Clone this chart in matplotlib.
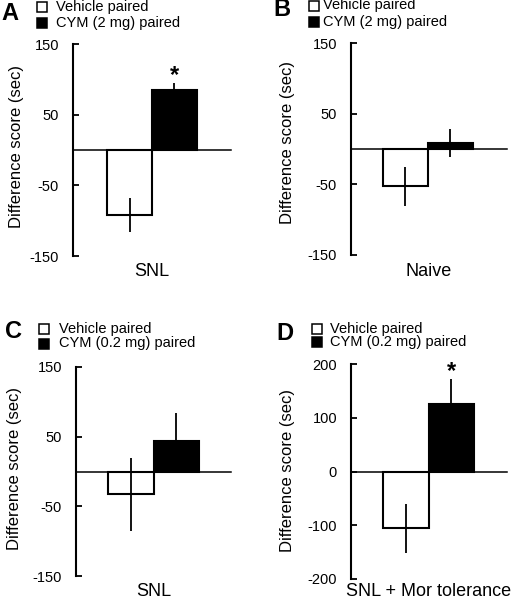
import matplotlib
matplotlib.use('Agg')
import matplotlib.pyplot as plt
from matplotlib.lines import Line2D

plt.rcParams['font.family'] = ['Liberation Sans', 'DejaVu Sans']

# ---------------- data ----------------
panel_letters = ["A", "B", "C", "D"]
vehicle_label = "Vehicle paired"
cym_labels = ["CYM (2 mg) paired", "CYM (2 mg) paired",
              "CYM (0.2 mg) paired", "CYM (0.2 mg) paired"]
x_labels = ["SNL", "Naive", "SNL", "SNL + Mor tolerance"]

vehicle_means = [-92, -53, -33, -106]
vehicle_errs = [24, 27, 53, 45]
cym_means = [85, 8, 44, 125]
cym_errs = [10, 20, 40, 48]
cym_significant = [True, False, False, True]

yticks_ABC = [-150, -50, 50, 150]
yticks_D = [-200, -100, 0, 100, 200]
ylims = [(-150, 150), (-150, 150), (-150, 150), (-200, 200)]
yticks_all = [yticks_ABC, yticks_ABC, yticks_ABC, yticks_D]

# ---------------- layout (pixels) ----------------
W, H = 511, 600
fig = plt.figure(figsize=(W / 100, H / 100), dpi=100)


def fx(x):
    return x / W


def fy(y):
    return 1 - y / H


# left, right, top, bottom of axes in px
rects = [(73, 231, 44, 256), (351, 507, 43, 255),
         (76, 231, 367, 576), (351, 507, 364, 579)]
xlims = [(-1.256, 2.256), (-1.211, 2.256), (-1.203, 2.203), (-1.21, 2.225)]
letter_pos = [(10, 14), (282, 10), (13, 332), (285, 333)]
legend_sq = [(42, 6.5, 42, 23), (314, 5.5, 314, 22),
             (44, 329, 44, 343.5), (317, 329, 317, 342)]
legend_tx = [56, 323, 59, 330]
ylabel_pos = [(17, 147), (287, 142), (15, 469), (287, 470)]
xlabel_y = [272, 272, 592, 592]

for i in range(4):
    l, r, t, b = rects[i]
    ax = fig.add_axes([fx(l), fy(b), (r - l) / W, (b - t) / H])
    xs = [0, 1]
    means = [vehicle_means[i], cym_means[i]]
    errs = [vehicle_errs[i], cym_errs[i]]
    ax.bar(xs, means, width=1.0, color=['white', 'black'],
           edgecolor='black', linewidth=1.5, zorder=2)
    ax.errorbar(xs, means, yerr=errs, fmt='none', ecolor='black',
                elinewidth=1.3, capsize=0, zorder=3)
    if cym_significant[i]:
        ax.annotate('*', xy=(1, cym_means[i] + cym_errs[i]),
                    xytext=(0, -3), textcoords='offset points',
                    ha='center', va='bottom', fontsize=17, fontweight='bold')
    ax.set_xlim(*xlims[i])
    ax.set_ylim(*ylims[i])
    ax.set_xticks([])
    ax.set_yticks(yticks_all[i])
    ax.set_yticklabels([str(v) for v in yticks_all[i]])
    for s in ['top', 'right']:
        ax.spines[s].set_visible(False)
    ax.spines['bottom'].set_position(('data', 0))
    ax.spines['bottom'].set_linewidth(1.1)
    ax.spines['left'].set_linewidth(1.5)
    ax.spines['bottom'].set_zorder(1)
    ax.tick_params(axis='y', direction='in', length=4, width=1.3,
                   labelsize=10.5, pad=10)
    ax.patch.set_visible(False)

    # x label
    fig.text(fx((l + r) / 2), fy(xlabel_y[i]), x_labels[i],
             ha='center', va='center', fontsize=13)
    # y label
    fig.text(fx(ylabel_pos[i][0]), fy(ylabel_pos[i][1]),
             "Difference score (sec)", rotation=90,
             ha='center', va='center', fontsize=12)
    # panel letter
    fig.text(fx(letter_pos[i][0]), fy(letter_pos[i][1]), panel_letters[i],
             ha='center', va='center', fontsize=17, fontweight='bold')
    # legend
    sx1, sy1, sx2, sy2 = legend_sq[i]
    fig.add_artist(Line2D([fx(sx1)], [fy(sy1)], marker='s', markersize=6.5,
                          markerfacecolor='white', markeredgecolor='black',
                          markeredgewidth=1.1, linestyle='none'))
    fig.add_artist(Line2D([fx(sx2)], [fy(sy2)], marker='s', markersize=6.5,
                          markerfacecolor='black', markeredgecolor='black',
                          markeredgewidth=1.1, linestyle='none'))
    fig.text(fx(legend_tx[i]), fy(sy1), vehicle_label,
             ha='left', va='center', fontsize=10.5)
    fig.text(fx(legend_tx[i]), fy(sy2), cym_labels[i],
             ha='left', va='center', fontsize=10.5)

fig.savefig('out.png', dpi=100)
